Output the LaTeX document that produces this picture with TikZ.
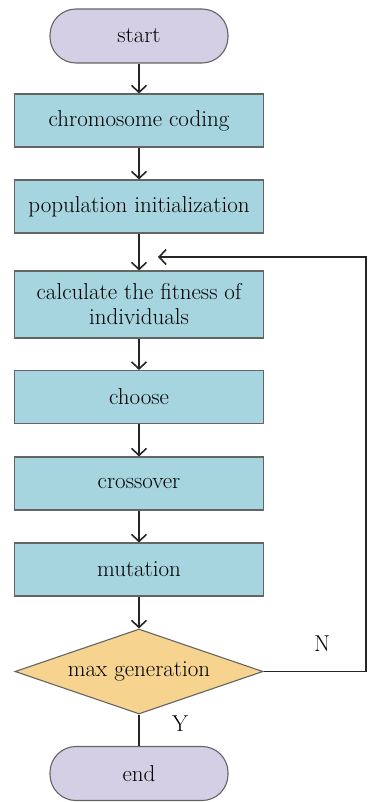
\documentclass[tikz,border=0pt]{standalone}
\usepackage{xcolor}
\usepackage{tikz}
\usetikzlibrary{shapes.geometric}
\usetikzlibrary{arrows.meta}
\definecolor{boxblue}{RGB}{166,212,223}
\definecolor{termlilac}{RGB}{212,207,228}
\definecolor{decorange}{RGB}{246,212,143}
\definecolor{edgegray}{RGB}{100,100,100}
\tikzset{
  procbox/.style={draw=edgegray, fill=boxblue, line width=1.1pt, minimum width=249pt, minimum height=53pt, align=center, inner sep=2pt},
  termbox/.style={draw=edgegray, fill=termlilac, line width=1.1pt, rounded corners=26pt, minimum width=178pt, minimum height=54pt},
  decbox/.style={diamond, draw=edgegray, fill=decorange, line width=1.1pt, aspect=2.9, inner sep=0pt, minimum width=248pt, minimum height=85pt},
  flow/.style={-{Straight Barb[length=7pt,width=15pt,line width=1.6pt]}, line width=1.8pt, color=black!85},
  plain/.style={line width=1.8pt, color=black!85}
}

\begin{document}
\begin{tikzpicture}[x=1pt, y=-1pt, font=\fontsize{23}{25}\selectfont]
            \useasboundingbox (0,0) rectangle (368,802);

            \node[termbox] (start) at (139, 36) {start};
            \node[procbox] (code) at (139, 120.5) {chromosome coding};
            \node[procbox] (init) at (139, 206.5) {population initialization};
            \node[procbox, minimum height=67pt] (fit) at (139, 304.5) {calculate the fitness of\\individuals};
            \node[procbox] (choose) at (139, 397) {choose};
            \node[procbox] (cross) at (139, 483.5) {crossover};
            \node[procbox] (mut) at (139, 569.5) {mutation};
            \node[decbox] (maxgen) at (139, 671.5) {max generation};
            \node[termbox] (stop) at (139, 773.5) {end};

            \draw[flow] (start) -- (code);
            \draw[flow] (code) -- (init);
            \draw[flow] (init) -- (fit);
            \draw[flow] (fit) -- (choose);
            \draw[flow] (choose) -- (cross);
            \draw[flow] (cross) -- (mut);
            \draw[flow] (mut) -- (maxgen);
            \draw[plain] (maxgen) -- (stop);

            % loop back when the max generation is not reached
            \coordinate (loopr) at (366, 671.5);
            \coordinate (loopt) at (366, 257);
            \coordinate (looptip) at (158, 257);
            \draw[flow] (maxgen.east) -- (loopr) -- (loopt) -- (looptip);

            \node (ylabel) at (180, 724) {Y};
            \node (nlabel) at (322, 644) {N};
        \end{tikzpicture}
\end{document}
